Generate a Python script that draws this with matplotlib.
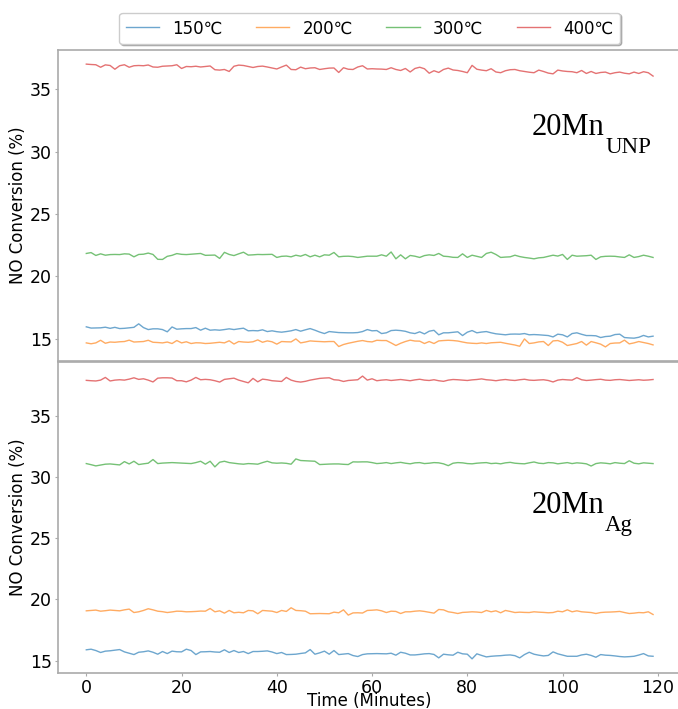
import numpy as np
import matplotlib
matplotlib.use("Agg")
import matplotlib.pyplot as plt

labels = ['150\u2103', '200\u2103', '300\u2103', '400\u2103']
colors = ['#1f77b4', '#ff7f0e', '#2ca02c', '#d62728']

# 20Mn_UNP catalyst, NO conversion (%) sampled each minute
unp_150 = [15.94, 15.84, 15.85, 15.86, 15.91, 15.82, 15.90, 15.80, 15.82, 15.86,
           15.90, 16.18, 15.88, 15.72, 15.78, 15.78, 15.72, 15.54, 15.93, 15.75,
           15.78, 15.80, 15.80, 15.88, 15.67, 15.83, 15.67, 15.70, 15.67, 15.72,
           15.78, 15.72, 15.78, 15.83, 15.62, 15.64, 15.62, 15.70, 15.56, 15.62,
           15.55, 15.51, 15.56, 15.62, 15.72, 15.59, 15.70, 15.80, 15.67, 15.52,
           15.40, 15.56, 15.52, 15.48, 15.47, 15.46, 15.46, 15.48, 15.56, 15.72,
           15.62, 15.64, 15.40, 15.46, 15.64, 15.67, 15.64, 15.58, 15.46, 15.40,
           15.54, 15.37, 15.59, 15.66, 15.30, 15.46, 15.46, 15.50, 15.54, 15.24,
           15.51, 15.64, 15.46, 15.52, 15.56, 15.46, 15.38, 15.34, 15.30, 15.35,
           15.36, 15.35, 15.40, 15.30, 15.32, 15.30, 15.27, 15.24, 15.13, 15.35,
           15.30, 15.13, 15.40, 15.46, 15.34, 15.24, 15.24, 15.22, 15.08, 15.16,
           15.19, 15.32, 15.35, 15.08, 15.05, 15.03, 15.10, 15.25, 15.13, 15.19]
unp_200 = [14.65, 14.58, 14.65, 14.86, 14.62, 14.72, 14.70, 14.74, 14.76, 14.87,
           14.72, 14.74, 14.76, 14.86, 14.70, 14.68, 14.65, 14.72, 14.60, 14.84,
           14.65, 14.74, 14.60, 14.66, 14.65, 14.60, 14.62, 14.66, 14.70, 14.65,
           14.82, 14.56, 14.76, 14.72, 14.70, 14.74, 14.89, 14.70, 14.81, 14.74,
           14.55, 14.76, 14.74, 14.73, 14.97, 14.65, 14.72, 14.81, 14.78, 14.76,
           14.74, 14.76, 14.76, 14.36, 14.52, 14.62, 14.70, 14.78, 14.84, 14.76,
           14.73, 14.86, 14.84, 14.84, 14.65, 14.44, 14.62, 14.76, 14.87, 14.80,
           14.79, 14.60, 14.76, 14.60, 14.81, 14.84, 14.86, 14.84, 14.80, 14.72,
           14.65, 14.62, 14.60, 14.65, 14.60, 14.66, 14.68, 14.70, 14.62, 14.55,
           14.48, 14.38, 14.97, 14.60, 14.65, 14.73, 14.76, 14.44, 14.81, 14.84,
           14.70, 14.44, 14.52, 14.60, 14.76, 14.47, 14.76, 14.66, 14.55, 14.33,
           14.60, 14.64, 14.65, 14.87, 14.57, 14.65, 14.76, 14.68, 14.60, 14.49]
unp_300 = [21.83, 21.90, 21.67, 21.80, 21.69, 21.74, 21.75, 21.74, 21.80, 21.78,
           21.56, 21.75, 21.77, 21.86, 21.75, 21.36, 21.35, 21.60, 21.68, 21.82,
           21.76, 21.74, 21.77, 21.80, 21.83, 21.68, 21.69, 21.70, 21.43, 21.92,
           21.75, 21.66, 21.80, 21.93, 21.70, 21.72, 21.75, 21.74, 21.75, 21.76,
           21.51, 21.60, 21.62, 21.56, 21.69, 21.61, 21.75, 21.56, 21.69, 21.56,
           21.72, 21.69, 21.91, 21.56, 21.60, 21.61, 21.58, 21.51, 21.56, 21.61,
           21.61, 21.61, 21.72, 21.61, 21.95, 21.40, 21.72, 21.40, 21.67, 21.61,
           21.51, 21.66, 21.72, 21.67, 21.83, 21.61, 21.58, 21.52, 21.51, 21.80,
           21.51, 21.69, 21.60, 21.51, 21.83, 21.93, 21.75, 21.51, 21.54, 21.56,
           21.69, 21.58, 21.51, 21.46, 21.40, 21.48, 21.51, 21.60, 21.69, 21.62,
           21.75, 21.35, 21.69, 21.61, 21.63, 21.65, 21.69, 21.35, 21.56, 21.60,
           21.61, 21.60, 21.55, 21.51, 21.72, 21.51, 21.58, 21.69, 21.61, 21.51]
unp_400 = [37.03, 37.00, 36.98, 36.78, 36.97, 36.92, 36.62, 36.90, 36.98, 36.78,
           36.90, 36.92, 36.90, 36.96, 36.80, 36.78, 36.86, 36.88, 36.90, 36.98,
           36.68, 36.84, 36.82, 36.86, 36.80, 36.84, 36.88, 36.58, 36.55, 36.60,
           36.44, 36.86, 36.95, 36.92, 36.84, 36.76, 36.84, 36.87, 36.80, 36.72,
           36.64, 36.80, 36.95, 36.60, 36.58, 36.79, 36.66, 36.72, 36.74, 36.60,
           36.66, 36.71, 36.72, 36.36, 36.74, 36.62, 36.60, 36.80, 36.90, 36.64,
           36.66, 36.64, 36.63, 36.60, 36.74, 36.60, 36.52, 36.68, 36.40, 36.68,
           36.78, 36.66, 36.30, 36.50, 36.36, 36.60, 36.71, 36.56, 36.52, 36.44,
           36.34, 36.93, 36.62, 36.55, 36.50, 36.66, 36.40, 36.34, 36.50, 36.58,
           36.60, 36.50, 36.44, 36.38, 36.34, 36.55, 36.44, 36.31, 36.25, 36.55,
           36.48, 36.44, 36.42, 36.34, 36.52, 36.28, 36.44, 36.28, 36.36, 36.39,
           36.25, 36.34, 36.39, 36.30, 36.25, 36.39, 36.28, 36.42, 36.34, 36.07]

# 20Mn_Ag catalyst
ag_150 = [15.88, 15.93, 15.82, 15.66, 15.77, 15.80, 15.85, 15.90, 15.71, 15.60,
          15.49, 15.68, 15.72, 15.79, 15.68, 15.52, 15.74, 15.57, 15.77, 15.72,
          15.71, 15.93, 15.82, 15.49, 15.71, 15.72, 15.74, 15.70, 15.68, 15.88,
          15.66, 15.82, 15.66, 15.74, 15.57, 15.74, 15.74, 15.76, 15.79, 15.70,
          15.57, 15.66, 15.49, 15.50, 15.52, 15.58, 15.63, 15.90, 15.52, 15.63,
          15.77, 15.52, 15.82, 15.49, 15.53, 15.57, 15.41, 15.33, 15.49, 15.55,
          15.56, 15.57, 15.56, 15.55, 15.60, 15.44, 15.68, 15.60, 15.46, 15.46,
          15.50, 15.55, 15.57, 15.50, 15.22, 15.52, 15.47, 15.44, 15.68, 15.55,
          15.52, 15.14, 15.55, 15.42, 15.30, 15.35, 15.38, 15.40, 15.44, 15.46,
          15.40, 15.22, 15.49, 15.68, 15.52, 15.44, 15.38, 15.42, 15.71, 15.55,
          15.45, 15.35, 15.35, 15.35, 15.46, 15.52, 15.42, 15.27, 15.49, 15.44,
          15.42, 15.38, 15.33, 15.30, 15.32, 15.35, 15.45, 15.57, 15.38, 15.35]
ag_200 = [19.07, 19.10, 19.13, 19.04, 19.08, 19.13, 19.10, 19.07, 19.15, 19.21,
          18.93, 18.99, 19.10, 19.24, 19.15, 19.04, 19.00, 18.93, 18.98, 19.04,
          19.03, 18.99, 19.00, 19.02, 19.05, 19.04, 19.26, 18.99, 19.07, 18.88,
          19.10, 18.91, 18.95, 18.91, 19.10, 19.07, 18.83, 19.10, 19.07, 19.04,
          18.93, 19.10, 19.02, 19.32, 19.10, 19.08, 19.04, 18.83, 18.84, 18.85,
          18.84, 18.83, 18.96, 18.91, 19.15, 18.72, 18.90, 18.91, 18.89, 19.10,
          19.12, 19.15, 19.07, 18.93, 19.04, 19.02, 18.85, 18.99, 18.99, 19.04,
          19.07, 19.02, 18.95, 18.88, 19.18, 19.15, 18.99, 18.93, 18.85, 18.94,
          18.96, 18.99, 18.97, 18.93, 19.10, 18.99, 19.07, 18.91, 19.10, 19.02,
          18.93, 18.96, 18.94, 18.93, 18.99, 18.96, 18.94, 18.91, 18.93, 19.04,
          18.99, 19.15, 18.99, 19.07, 18.99, 18.96, 18.93, 18.85, 18.93, 18.96,
          18.97, 18.99, 19.02, 18.93, 18.85, 18.88, 18.93, 18.91, 18.99, 18.77]
ag_300 = [31.12, 31.03, 30.93, 31.00, 31.07, 31.09, 31.05, 31.01, 31.28, 31.09,
          31.31, 31.04, 31.10, 31.15, 31.45, 31.12, 31.16, 31.18, 31.20, 31.18,
          31.16, 31.14, 31.12, 31.20, 31.31, 31.07, 31.31, 30.85, 31.23, 31.31,
          31.20, 31.15, 31.10, 31.07, 31.12, 31.10, 31.07, 31.20, 31.31, 31.18,
          31.15, 31.17, 31.14, 31.07, 31.50, 31.37, 31.35, 31.33, 31.31, 31.04,
          31.06, 31.08, 31.09, 31.09, 31.06, 31.04, 31.26, 31.25, 31.26, 31.26,
          31.20, 31.12, 31.15, 31.20, 31.12, 31.18, 31.22, 31.15, 31.10, 31.18,
          31.20, 31.12, 31.15, 31.20, 31.18, 31.10, 30.95, 31.15, 31.20, 31.18,
          31.12, 31.10, 31.15, 31.18, 31.20, 31.12, 31.15, 31.10, 31.18, 31.22,
          31.15, 31.12, 31.10, 31.18, 31.25, 31.15, 31.12, 31.20, 31.18, 31.10,
          31.15, 31.20, 31.12, 31.18, 31.15, 31.10, 30.92, 31.12, 31.18, 31.15,
          31.10, 31.20, 31.15, 31.12, 31.35, 31.15, 31.10, 31.18, 31.15, 31.12]
ag_400 = [37.93, 37.90, 37.88, 37.95, 38.17, 37.88, 37.95, 37.98, 37.95, 38.03,
          38.14, 38.01, 38.06, 37.95, 37.80, 38.11, 38.14, 38.14, 38.12, 37.90,
          37.90, 37.81, 37.95, 38.17, 37.98, 38.01, 37.98, 37.90, 37.79, 38.01,
          38.06, 38.11, 37.95, 37.84, 37.73, 38.09, 37.81, 38.03, 37.98, 37.90,
          37.87, 37.84, 38.17, 37.95, 37.84, 37.79, 37.85, 37.95, 38.02, 38.09,
          38.12, 38.14, 37.98, 37.95, 37.84, 37.92, 37.95, 37.98, 38.28, 37.95,
          38.06, 37.90, 37.95, 37.98, 37.92, 37.96, 38.00, 37.95, 37.90, 37.97,
          38.02, 37.95, 37.92, 37.98, 37.90, 37.85, 37.95, 38.00, 37.98, 37.95,
          37.92, 37.97, 38.00, 38.05, 37.98, 37.95, 37.90, 37.96, 38.00, 37.95,
          37.92, 37.98, 38.02, 37.95, 37.93, 37.96, 37.98, 37.92, 37.80, 37.95,
          38.00, 37.97, 37.95, 38.15, 37.98, 37.92, 37.95, 37.99, 38.02, 37.95,
          37.93, 37.98, 38.00, 37.96, 37.92, 37.95, 37.98, 37.94, 37.96, 38.00]

panels = [
    ([unp_150, unp_200, unp_300, unp_400], 'UNP', 0.727),
    ([ag_150, ag_200, ag_300, ag_400], 'Ag', 0.514),
]

fig = plt.figure(figsize=(6.78, 7.09), dpi=100)
ax_top = fig.add_axes([0.0855, 0.4908, 0.9195, 0.4387])
ax_bot = fig.add_axes([0.0855, 0.0508, 0.9195, 0.4387], sharex=ax_top)

spine_color = '#aaaaaa'
serif = 'Liberation Serif'
for ax, (series, sub, ty) in zip([ax_top, ax_bot], panels):
    for vals, lab, col in zip(series, labels, colors):
        ax.plot(np.arange(len(vals)), vals, color=col, lw=1.0, alpha=0.65, label=lab)
    for sp in ax.spines.values():
        sp.set_color(spine_color)
        sp.set_linewidth(1.2)
    ax.tick_params(axis='both', labelsize=12.5, color=spine_color, length=2.5, pad=1.8)
    ax.set_ylabel('NO Conversion (%)', fontsize=12, labelpad=2)
    # catalyst name with a lowered subscript
    name = ax.text(0.760, ty, '20Mn', transform=ax.transAxes, fontsize=22,
                   family=serif, va='baseline', ha='left')
    ax.annotate(sub, xy=(1, 0), xycoords=name, xytext=(0.5, -8),
                textcoords='offset points', fontsize=16.5, family=serif,
                va='baseline', ha='left')
    ax.set_xticks([0, 20, 40, 60, 80, 100, 120])

ax_top.tick_params(axis='x', bottom=False, labelbottom=False)
ax_bot.set_xlabel('Time (Minutes)', fontsize=12, labelpad=-3.5)

ax_top.legend(loc='upper center', bbox_to_anchor=(0.5, 1.12), ncol=4, fontsize=12,
              borderaxespad=0, shadow={'ox': 1.2, 'oy': -1.2, 'alpha': 0.35})

fig.savefig('out.png', dpi=100)
